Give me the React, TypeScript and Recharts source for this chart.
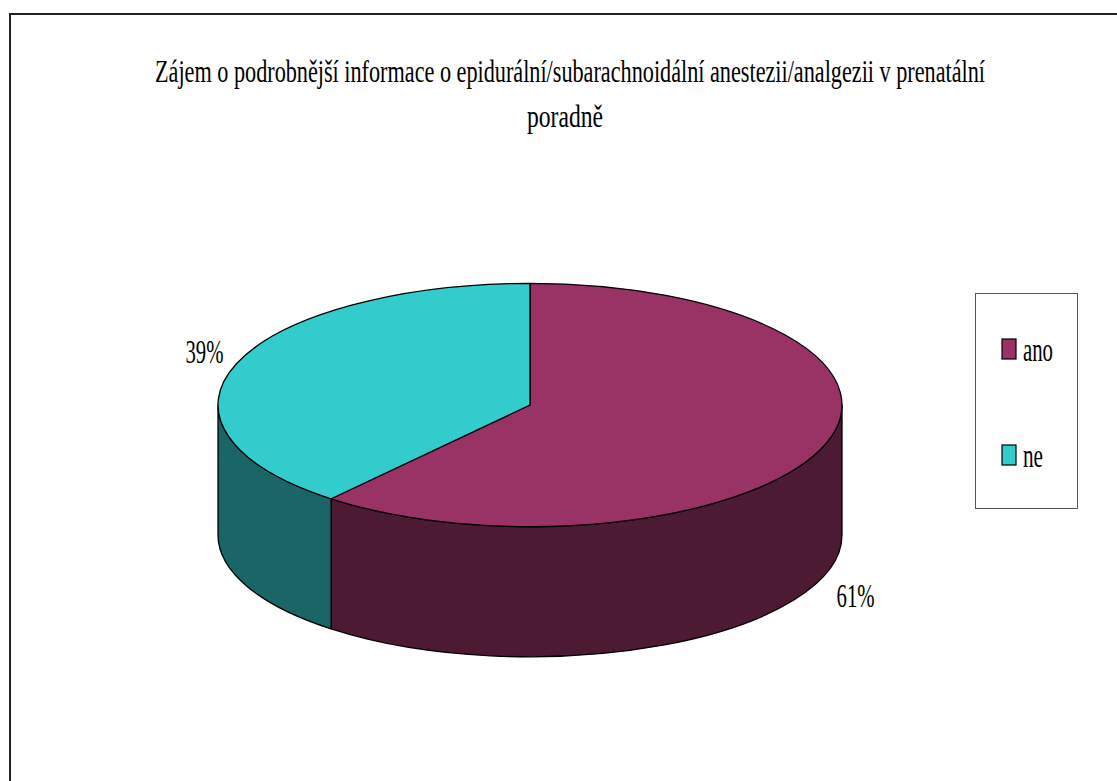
import React from 'react';
import { PieChart, Pie, Legend, Customized } from 'recharts';

const categories = ['ano', 'ne'];
const values = [61, 39];
const topColors = ['#993366', '#33CCCC'];
const sideColors = ['#4D1A33', '#1A6666'];
const titleLine1 = 'Zájem o podrobnější informace o epidurální/subarachnoidální anestezii/analgezii v prenatální';
const titleLine2 = 'poradně';

const data = categories.map((name, i) => ({ name, value: values[i], fill: topColors[i] }));

const W = 1117;
const H = 781;
const TILT = 0.39;
const DEPTH = 0.417;
const RAD = Math.PI / 180;
const FONT = '"Liberation Serif", "Times New Roman", serif';
const SX = 0.7;

function Sector3D(props: any) {
  const { cx, cy, outerRadius, startAngle, endAngle, fill, index } = props;
  const rx = outerRadius;
  const ry = rx * TILT;
  const d = rx * DEPTH;
  const pt = (a: number, dy = 0) =>
    `${(cx + rx * Math.cos(a * RAD)).toFixed(2)},${(cy - ry * Math.sin(a * RAD) + dy).toFixed(2)}`;
  const large = Math.abs(endAngle - startAngle) > 180 ? 1 : 0;
  const sweep = startAngle > endAngle ? 1 : 0;
  const top = `M${cx},${cy} L${pt(startAngle)} A${rx},${ry} 0 ${large} ${sweep} ${pt(endAngle)} Z`;
  const lo = Math.min(startAngle, endAngle);
  const hi = Math.max(startAngle, endAngle);
  const sides: string[] = [];
  for (let k = -2; k <= 2; k++) {
    const fs = -180 + 360 * k;
    const fe = 360 * k;
    const a = Math.max(lo, fs);
    const b = Math.min(hi, fe);
    if (b > a) {
      sides.push(
        `M${pt(a)} A${rx},${ry} 0 0 0 ${pt(b)} L${pt(b, d)} A${rx},${ry} 0 0 1 ${pt(a, d)} Z`
      );
    }
  }
  const sideFill = sideColors[index] ?? fill;
  return (
    <g>
      {sides.map((p, i) => (
        <path key={i} d={p} fill={sideFill} stroke="#000" strokeWidth={1.3} strokeLinejoin="round" />
      ))}
      <path d={top} fill={fill} stroke="#000" strokeWidth={1.3} strokeLinejoin="round" />
    </g>
  );
}

function ScaledText({ x, y, width, size, anchor = 'middle', baseline, children }: any) {
  return (
    <g transform={`translate(${x},${y}) scale(${SX},1)`}>
      <text
        x={0}
        y={0}
        textAnchor={anchor}
        dominantBaseline={baseline}
        fontFamily={FONT}
        fontSize={size}
        fill="#000"
        textLength={width / SX}
        lengthAdjust="spacingAndGlyphs"
      >
        {children}
      </text>
    </g>
  );
}

function renderLabel(props: any) {
  const { cx, cy, midAngle, outerRadius, percent } = props;
  const rx = outerRadius;
  const ry = rx * TILT;
  const d = rx * DEPTH;
  const s = Math.sin(midAngle * RAD);
  const x = cx + (rx + 34) * Math.cos(midAngle * RAD);
  const y = cy - (ry + 37) * s + (s < 0 ? d + 7 : 0);
  return (
    <ScaledText x={x} y={y} width={38} size={34} baseline="central">
      {`${Math.round(percent * 100)}%`}
    </ScaledText>
  );
}

function TitleAndFrame() {
  return (
    <g>
      <rect x={10} y={14} width={1300} height={900} fill="none" stroke="#222" strokeWidth={2} />
      <ScaledText x={570} y={82} width={830} size={32}>
        {titleLine1}
      </ScaledText>
      <ScaledText x={565} y={127} width={76} size={32}>
        {titleLine2}
      </ScaledText>
    </g>
  );
}

function renderLegend(props: any) {
  const payload = props.payload || [];
  return (
    <svg width={103} height={216} style={{ display: 'block' }}>
      <rect x={0.5} y={0.5} width={102} height={215} fill="#fff" stroke="#555" strokeWidth={1} />
      {payload.map((entry: any, i: number) => {
        const y0 = 46 + i * 106;
        const label = String(entry.value);
        return (
          <g key={label}>
            <rect x={27} y={y0} width={14} height={20} fill={entry.color} stroke="#000" strokeWidth={1.2} />
            <ScaledText x={48} y={y0 + 22} width={label.length * 10} size={34} anchor="start">
              {label}
            </ScaledText>
          </g>
        );
      })}
    </svg>
  );
}

export default function App() {
  return (
    <div style={{ position: 'fixed', left: 0, top: 0, width: W, height: H, background: '#fff' }}>
      <PieChart width={W} height={H} margin={{ top: 0, right: 0, bottom: 0, left: 0 }}>
        <Customized component={TitleAndFrame} />
        <Pie
          data={data}
          dataKey="value"
          nameKey="name"
          cx={530}
          cy={405}
          outerRadius={312}
          startAngle={90}
          endAngle={-270}
          isAnimationActive={false}
          shape={Sector3D}
          label={renderLabel}
          labelLine={false}
          stroke="#000"
        />
        <Legend
          content={renderLegend}
          wrapperStyle={{ position: 'absolute', left: 975, top: 293, width: 103, height: 216 }}
        />
      </PieChart>
    </div>
  );
}
